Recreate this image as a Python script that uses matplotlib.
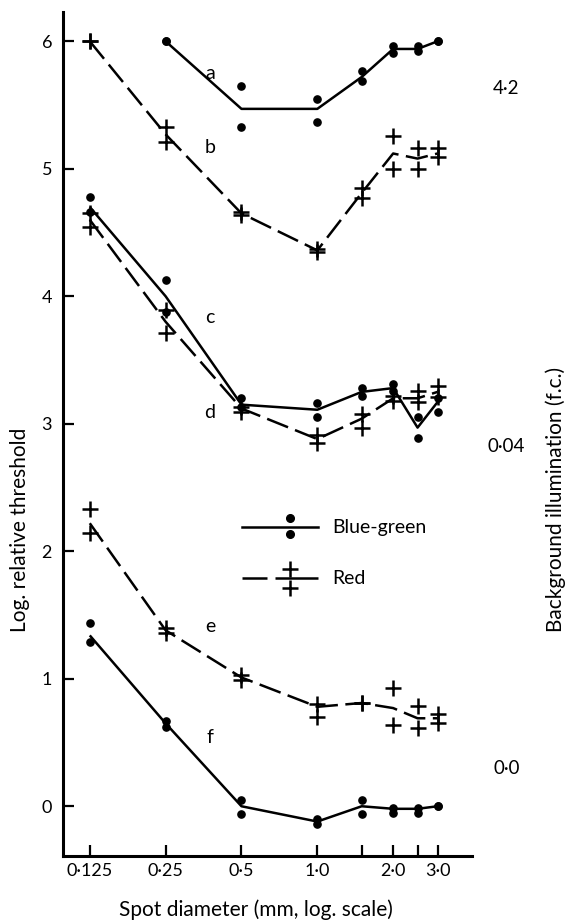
import numpy as np
import matplotlib
matplotlib.use("Agg")
import matplotlib.pyplot as plt
from matplotlib.ticker import FixedLocator, NullFormatter

plt.rcParams['font.family'] = ['Lato', 'DejaVu Sans']

# spot diameters (mm)
X = [0.125, 0.25, 0.5, 1.0, 1.5, 2.0, 2.5, 3.0]

# background 4.2 f.c.
a_x = X[1:]
a_pts1 = [6.0, 5.65, 5.55, 5.77, 5.96, 5.96, 6.0]
a_pts2 = [6.0, 5.33, 5.37, 5.69, 5.91, 5.92, 6.0]
a_line = [6.0, 5.47, 5.47, 5.72, 5.94, 5.94, 6.0]

b_pts1 = [6.0, 5.33, 4.66, 4.37, 4.85, 5.26, 5.16, 5.16]
b_pts2 = [6.0, 5.21, 4.64, 4.35, 4.77, 5.00, 5.00, 5.09]
b_line = [6.0, 5.27, 4.65, 4.36, 4.81, 5.12, 5.08, 5.12]

# background 0.04 f.c.
c_pts1 = [4.78, 4.13, 3.20, 3.16, 3.28, 3.31, 3.05, 3.20]
c_pts2 = [4.66, 3.88, 3.13, 3.05, 3.22, 3.26, 2.89, 3.09]
c_line = [4.70, 4.00, 3.15, 3.11, 3.25, 3.28, 2.97, 3.17]

d_pts1 = [4.65, 3.89, 3.13, 2.91, 3.08, 3.22, 3.26, 3.30]
d_pts2 = [4.54, 3.71, 3.09, 2.85, 2.97, 3.18, 3.17, 3.21]
d_line = [4.60, 3.80, 3.12, 2.88, 3.04, 3.20, 3.20, 3.25]

# background 0.0 f.c.
e_pts1 = [2.33, 1.40, 1.03, 0.80, 0.81, 0.93, 0.79, 0.72]
e_pts2 = [2.14, 1.36, 0.99, 0.70, 0.81, 0.64, 0.61, 0.65]
e_line = [2.22, 1.38, 1.01, 0.78, 0.81, 0.77, 0.69, 0.69]

f_pts1 = [1.44, 0.67, 0.05, -0.10, 0.05, -0.01, -0.01, 0.00]
f_pts2 = [1.29, 0.62, -0.06, -0.14, -0.06, -0.05, -0.05, 0.00]
f_line = [1.34, 0.65, 0.00, -0.12, 0.00, -0.02, -0.02, 0.00]

curve_labels = ['a', 'b', 'c', 'd', 'e', 'f']
label_y = [5.75, 5.17, 3.83, 3.09, 1.41, 0.54]
bg_labels = ['4\u00b72', '0\u00b704', '0\u00b70']
bg_y = [5.63, 2.82, 0.30]

x_major = [0.125, 0.25, 0.5, 1.0, 2.0, 3.0]
x_major_labels = ['0\u00b7125', '0\u00b725', '0\u00b75', '1\u00b70', '2\u00b70', '3\u00b70']
x_minor = [1.5, 2.5]

LW = 1.8
DASH = (0, (9, 3))


def draw_blue_green(ax, x, p1, p2, line):
    ax.plot(x, line, color='black', lw=LW, solid_capstyle='butt')
    ax.plot(x, p1, 'o', color='black', ms=5.2)
    ax.plot(x, p2, 'o', color='black', ms=5.2)


def draw_red(ax, x, p1, p2, line):
    ax.plot(x, line, color='black', lw=LW, linestyle=DASH, dash_capstyle='butt')
    ax.plot(x, p1, '+', color='black', ms=11, mew=1.8)
    ax.plot(x, p2, '+', color='black', ms=11, mew=1.8)


def main():
    fig = plt.figure(figsize=(5.69, 9.21), dpi=100)
    ax = fig.add_axes([0.111, 0.0706, 0.718, 0.9164])
    ax.set_xscale('log')
    ax.set_xlim(0.098, 4.1)
    ax.set_ylim(-0.39, 6.23)

    draw_blue_green(ax, a_x, a_pts1, a_pts2, a_line)
    draw_red(ax, X, b_pts1, b_pts2, b_line)
    draw_blue_green(ax, X, c_pts1, c_pts2, c_line)
    draw_red(ax, X, d_pts1, d_pts2, d_line)
    draw_red(ax, X, e_pts1, e_pts2, e_line)
    draw_blue_green(ax, X, f_pts1, f_pts2, f_line)

    for lab, y in zip(curve_labels, label_y):
        ax.text(0.375, y, lab, fontsize=14, ha='center', va='center')

    for lab, y in zip(bg_labels, bg_y):
        ax.text(1.085, y, lab, fontsize=13.5, ha='center', va='center',
                transform=ax.get_yaxis_transform())

    # legend drawn by hand
    tr = ax.transAxes
    ax.plot([0.438, 0.623], [0.390, 0.390], color='black', lw=LW, transform=tr)
    ax.plot([0.555, 0.555], [0.400, 0.382], 'o', color='black', ms=5.5, transform=tr)
    ax.text(0.658, 0.389, 'Blue-green', fontsize=14, va='center', transform=tr)
    ax.plot([0.438, 0.499], [0.329, 0.329], color='black', lw=LW,
            solid_capstyle='butt', transform=tr)
    ax.plot([0.518, 0.623], [0.329, 0.329], color='black', lw=LW,
            solid_capstyle='butt', transform=tr)
    ax.plot([0.555, 0.555], [0.340, 0.318], '+', color='black', ms=11, mew=1.8, transform=tr)
    ax.text(0.658, 0.329, 'Red', fontsize=14, va='center', transform=tr)

    ax.xaxis.set_major_locator(FixedLocator(x_major))
    ax.set_xticklabels(x_major_labels)
    ax.xaxis.set_minor_locator(FixedLocator(x_minor))
    ax.xaxis.set_minor_formatter(NullFormatter())
    ax.set_yticks([0, 1, 2, 3, 4, 5, 6])
    ax.set_yticklabels(['0', '1', '2', '3', '4', '5', '6'])

    ax.tick_params(which='both', direction='in', length=8, width=1.6, labelsize=13, pad=5)
    ax.tick_params(axis='y', pad=8)
    for s in ['top', 'right']:
        ax.spines[s].set_visible(False)
    for s in ['left', 'bottom']:
        ax.spines[s].set_linewidth(2.2)

    # axis titles placed in figure pixels
    W, H = 569.0, 921.0
    fig.text(256 / W, 1 - 910 / H, 'Spot diameter (mm, log. scale)', fontsize=15,
             ha='center', va='center')
    fig.text(20 / W, 1 - 632 / H, 'Log. relative threshold', rotation=90,
             fontsize=15, ha='center', va='bottom')
    fig.text(556 / W, 1 - 632 / H, 'Background illumination (f.c.)', rotation=90,
             fontsize=15, ha='center', va='bottom')

    fig.savefig('out.png', dpi=100)


if __name__ == '__main__':
    main()
